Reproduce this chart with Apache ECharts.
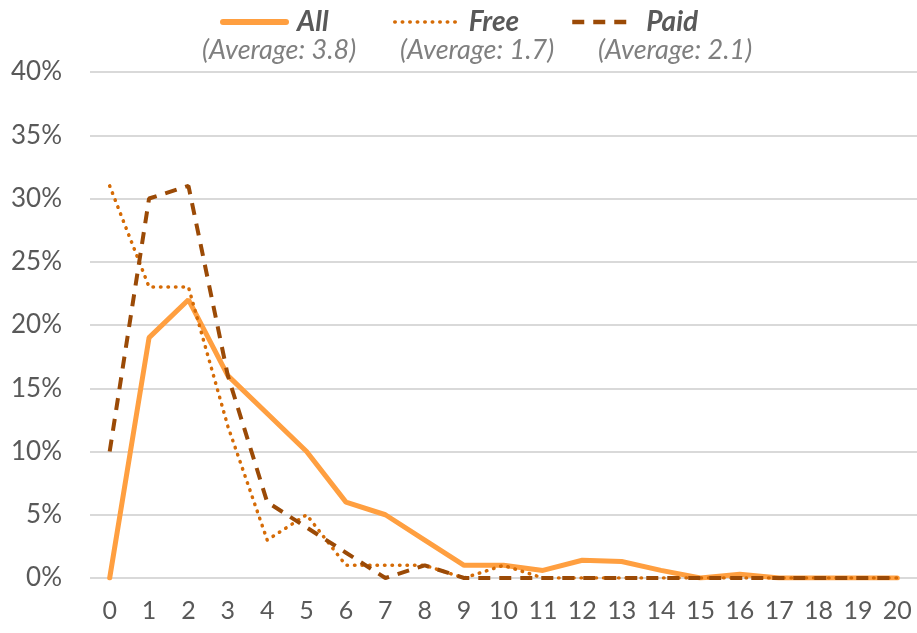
<!DOCTYPE html>
<html>
<head>
<meta charset="utf-8">
<script src="https://cdn.jsdelivr.net/npm/echarts@6/dist/echarts.min.js"></script>
<style>
  html, body { margin: 0; padding: 0; background: #fff; }
  #chart { width: 917px; height: 633px; }
</style>
</head>
<body>
<div id="chart"></div>
<script>
// categories 0..20
const categories = ["0","1","2","3","4","5","6","7","8","9","10","11","12","13","14","15","16","17","18","19","20"];
// percentages
const allValues  = [0, 19, 22, 16, 13, 10, 6, 5, 3, 1, 1, 0.6, 1.4, 1.3, 0.6, 0, 0.3, 0, 0, 0, 0];
const freeValues = [31, 23, 23, 12, 3, 5, 1, 1, 1, 0, 1, 0, 0, 0, 0, 0, 0, 0, 0, 0, 0];
const paidValues = [10, 30, 31, 16, 6, 4, 2, 0, 1, 0, 0, 0, 0, 0, 0, 0, 0, 0, 0, 0, 0];
const seriesNames = ["All", "Free", "Paid"];
const averages = ["(Average: 3.8)", "(Average: 1.7)", "(Average: 2.1)"];

const colors = ["#FF9F40", "#D56B06", "#9B4A06"];
const font = "Lato";
const chart = echarts.init(document.getElementById("chart"));

const legendBase = {
  top: 3,
  itemWidth: 63,
  itemHeight: 14,
  itemGap: 0,
  itemStyle: { opacity: 0 },
  textStyle: { fontFamily: font, fontSize: 28, fontWeight: "bold", fontStyle: "italic", color: "#595959", padding: [0, 0, 0, 6] }
};

const option = {
  animation: false,
  grid: { left: 90, right: 0, top: 72, bottom: 55 },
  legend: [
    Object.assign({}, legendBase, { left: 215, data: [seriesNames[0]], lineStyle: { width: 6 } }),
    Object.assign({}, legendBase, { left: 388, data: [seriesNames[1]], lineStyle: { width: 3.5 } }),
    Object.assign({}, legendBase, { left: 565, data: [seriesNames[2]], lineStyle: { width: 4.5 } })
  ],
  graphic: averages.map((t, i) => ({
    type: "text",
    left: [202, 400, 598][i],
    top: 37,
    style: { text: t, fontFamily: font, fontSize: 27, fontStyle: "italic", fill: "#7F7F7F" }
  })),
  xAxis: {
    type: "category",
    data: categories,
    boundaryGap: true,
    axisLine: { show: false },
    axisTick: { show: false },
    axisLabel: { fontFamily: font, fontSize: 25, color: "#595959", margin: 20 }
  },
  yAxis: {
    type: "value",
    min: 0,
    max: 40,
    interval: 5,
    axisLabel: { formatter: "{value}%", fontFamily: font, fontSize: 26, color: "#595959", margin: 28 },
    splitLine: { lineStyle: { color: "#D9D9D9", width: 2 } }
  },
  series: [
    {
      name: seriesNames[0], type: "line", data: allValues, symbol: "none", z: 1,
      color: colors[0],
      lineStyle: { color: colors[0], width: 5, cap: "round" }
    },
    {
      name: seriesNames[1], type: "line", data: freeValues, symbol: "none", z: 2,
      color: colors[1],
      lineStyle: { color: colors[1], width: 3.5, type: [0.5, 7], cap: "round" }
    },
    {
      name: seriesNames[2], type: "line", data: paidValues, symbol: "none", z: 3,
      color: colors[2],
      lineStyle: { color: colors[2], width: 4, type: [12, 9] }
    }
  ]
};

chart.setOption(option);
</script>
</body>
</html>
